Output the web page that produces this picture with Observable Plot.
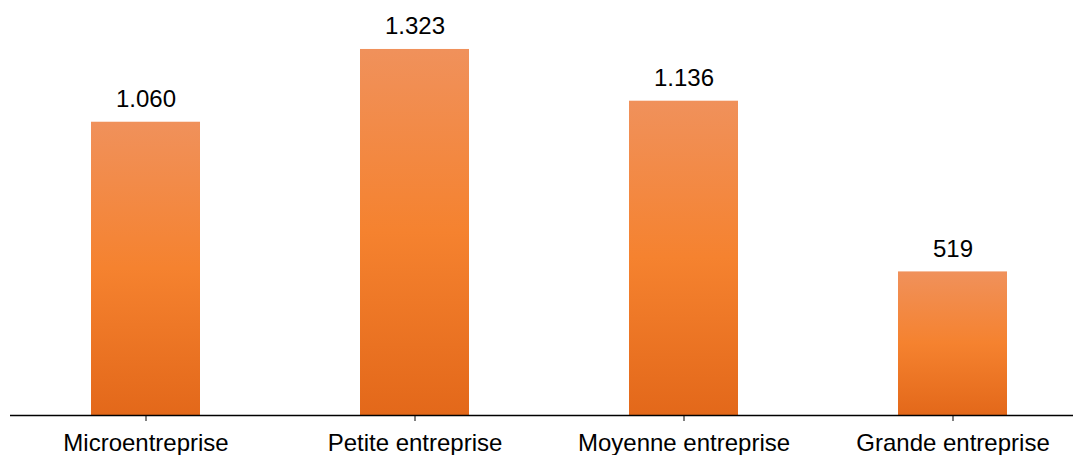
<!DOCTYPE html>
<html>
<head>
<meta charset="utf-8">
<script src="https://cdn.jsdelivr.net/npm/d3@7"></script>
<script src="https://cdn.jsdelivr.net/npm/@observablehq/plot@0.6"></script>
<style>
  html, body { margin: 0; padding: 0; background: #fff; }
  #chart svg { display: block; }
</style>
</head>
<body>
<div id="chart"></div>
<script>
const categories = ["Microentreprise", "Petite entreprise", "Moyenne entreprise", "Grande entreprise"];
const values = [1060, 1323, 1136, 519];

const data = categories.map((c, i) => ({category: c, value: values[i]}));
const fmt = d3.formatLocale({decimal: ",", thousands: ".", grouping: [3], currency: ["", "€"]}).format(",d");

const chart = Plot.plot({
  width: 1073,
  height: 455,
  marginTop: 0,
  marginBottom: 40,
  marginLeft: 10,
  marginRight: 0,
  style: {fontFamily: "'Liberation Sans', Arial, sans-serif", fontSize: "24px", color: "#000", background: "#fff"},
  x: {domain: categories, range: [11, 1087], paddingInner: 0.595, paddingOuter: 0.2975, label: null, tickSize: 6, tickPadding: 12},
  y: {domain: [0, 1500], axis: null},
  marks: [
    Plot.barY(data, {x: "category", y: "value", fill: "url(#barGrad)"}),
    Plot.text(data, {x: "category", y: "value", text: d => fmt(d.value), dy: -23, fontSize: 24, fill: "#000"}),
    Plot.ruleY([0], {stroke: "#000", strokeWidth: 1.5})
  ]
});

const ns = "http://www.w3.org/2000/svg";
const defs = document.createElementNS(ns, "defs");
const grad = document.createElementNS(ns, "linearGradient");
grad.setAttribute("id", "barGrad");
grad.setAttribute("x1", "0"); grad.setAttribute("y1", "0");
grad.setAttribute("x2", "0"); grad.setAttribute("y2", "1");
[["0%", "#F0915B"], ["50%", "#F5822F"], ["100%", "#E3681A"]].forEach(([o, c]) => {
  const s = document.createElementNS(ns, "stop");
  s.setAttribute("offset", o);
  s.setAttribute("stop-color", c);
  grad.appendChild(s);
});
defs.appendChild(grad);
chart.insertBefore(defs, chart.firstChild);
document.getElementById("chart").appendChild(chart);
</script>
</body>
</html>
